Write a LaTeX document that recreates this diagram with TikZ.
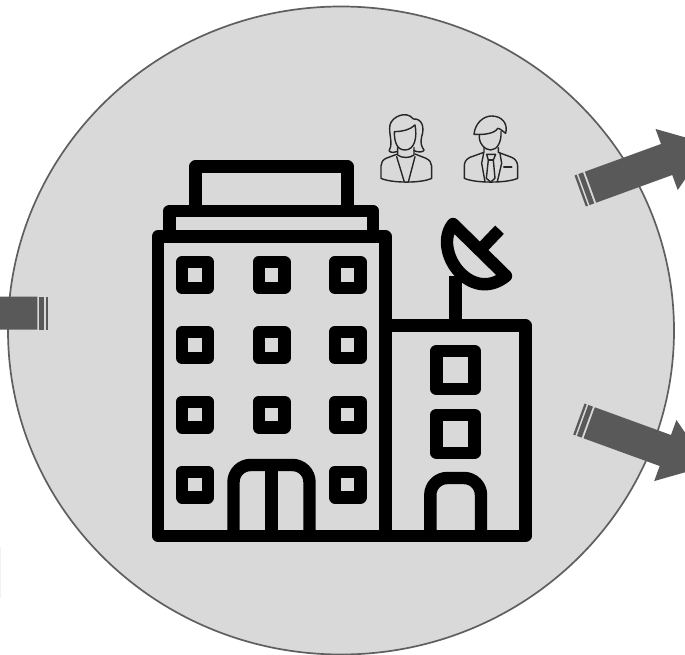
\documentclass[tikz,border=0pt]{standalone}
\usetikzlibrary{calc}

\definecolor{discgray}{HTML}{D9D9D9}
\definecolor{rimgray}{HTML}{5F5F5F}
\definecolor{arrowgray}{HTML}{595959}

\tikzset{
  iconline/.style={line width=12.4pt, black, line join=round},
  personline/.style={line width=1.4pt, black!85, line join=round, line cap=round},
  stripearrow/.pic={
    \fill[arrowgray] (0,-16.5) -- (81,-16.5) -- (81,-32.5) -- (126,0)
      -- (81,32.5) -- (81,16.5) -- (0,16.5) -- cycle;
    \fill[arrowgray] (-7,-16.5) rectangle (-2,16.5);
    \fill[arrowgray] (-11,-16.5) rectangle (-8.7,16.5);
  }
}

\begin{document}
\begin{tikzpicture}[x=1pt,y=-1pt]
\def\bldgbottom{535.8}

\useasboundingbox (0,0) rectangle (685,655);
\clip (0,0) rectangle (685,655);

% disc
\fill[white] (0,0) rectangle (685,655);
\fill[black!5] (0,547) rectangle (1.2,598);
\draw[line width=1.7pt, rimgray, fill=discgray] (341,330.5) ellipse [x radius=333, y radius=324];

% arrows
\pic[rotate=180] at (37.3,313) {stripearrow};
\pic[rotate=20] at (590.5,187.2) {stripearrow};
\pic[rotate=-20] at (589.2,422.8) {stripearrow};

% tall block
\draw[iconline] (195.5,211) |- (347.5,166.5) -- (347.5,211);
\draw[iconline] (169.5,236.5) |- (373,211) -- (373,236.5);
\draw[iconline] (158,236.5) rectangle (385.5,\bldgbottom);

\foreach \wx in {195,271.5,347.7}
  \foreach \wy in {275,345,414.5}
    \draw[iconline] (\wx-12.8,\wy-12.8) rectangle (\wx+12.8,\wy+12.8);
\foreach \wx in {195,347.7}
  \draw[iconline] (\wx-12.8,484.5-12.8) rectangle (\wx+12.8,484.5+12.8);

% main door
\draw[iconline, rounded corners=17pt] (233.5,\bldgbottom) |- (309.5,465) -- (309.5,\bldgbottom);
\draw[iconline] (271.5,465) -- (271.5,\bldgbottom);

% low block
\draw[iconline] (385.5,325.5) -| (525.5,\bldgbottom) -- (385.5,\bldgbottom);
\draw[iconline] (436.5,351) rectangle (474.5,389);
\draw[iconline] (436.5,414.7) rectangle (474.5,452.7);
\draw[iconline, rounded corners=17pt] (430.3,\bldgbottom) |- (481,478) -- (481,\bldgbottom);

% dish
\draw[iconline] (455.5,325.5) -- (455.5,276);
\draw[iconline] (453,224) .. controls (432,250) and (470,305) .. (506,276) -- cycle;
\draw[line width=12pt, black] (482,248) -- (499.5,229.7);

% people
\begin{scope}[shift={(360,100)}, x=0.3333pt, y=-0.3333pt, personline]
  % woman
  \draw (110,155) .. controls (95,160) and (85,155) .. (88,150)
    .. controls (100,130) and (85,100) .. (90,75)
    .. controls (95,50) and (140,30) .. (160,57)
    .. controls (185,55) and (195,80) .. (185,110)
    .. controls (180,130) and (185,140) .. (192,150)
    .. controls (190,157) and (175,158) .. (162,152);
  \draw (103,95) .. controls (125,95) and (150,90) .. (165,75)
    .. controls (172,110) and (165,150) .. (135,150)
    .. controls (110,150) and (103,125) .. (103,95);
  \draw (113,143) -- (113,165) .. controls (125,175) and (150,175) .. (162,165) -- (162,143);
  \draw (110,163) -- (78,175) .. controls (68,180) and (63,188) .. (63,198) -- (63,235)
    .. controls (95,250) and (185,250) .. (215,235) -- (215,198)
    .. controls (215,188) and (208,180) .. (198,175) -- (165,162);
  \draw (110,170) -- (133,246);
  \draw (165,170) -- (145,246);
  % man
  \draw (342,103) .. controls (345,70) and (370,48) .. (395,48)
    .. controls (425,48) and (445,70) .. (437,100)
    .. controls (430,95) and (420,85) .. (413,85)
    .. controls (405,100) and (375,105) .. (342,103);
  \draw (358,104) .. controls (355,130) and (375,150) .. (392,150)
    .. controls (412,150) and (425,125) .. (423,95);
  \draw (372,143) -- (372,157) -- (330,172) .. controls (318,178) and (313,186) .. (313,198) -- (313,235)
    .. controls (345,250) and (440,250) .. (473,235) -- (473,198)
    .. controls (473,186) and (465,176) .. (455,172) -- (415,157) -- (415,143);
  \draw (380,163) -- (407,163) -- (400,180) -- (405,235) -- (392,246) -- (379,235) -- (385,180) -- cycle;
  \draw (385,180) -- (400,180);
  \draw (371,160) -- (365,190) -- (375,245);
  \draw (420,160) -- (425,190) -- (412,245);
  \draw[line width=2pt] (432,202) -- (455,202);
\end{scope}
\end{tikzpicture}
\end{document}
